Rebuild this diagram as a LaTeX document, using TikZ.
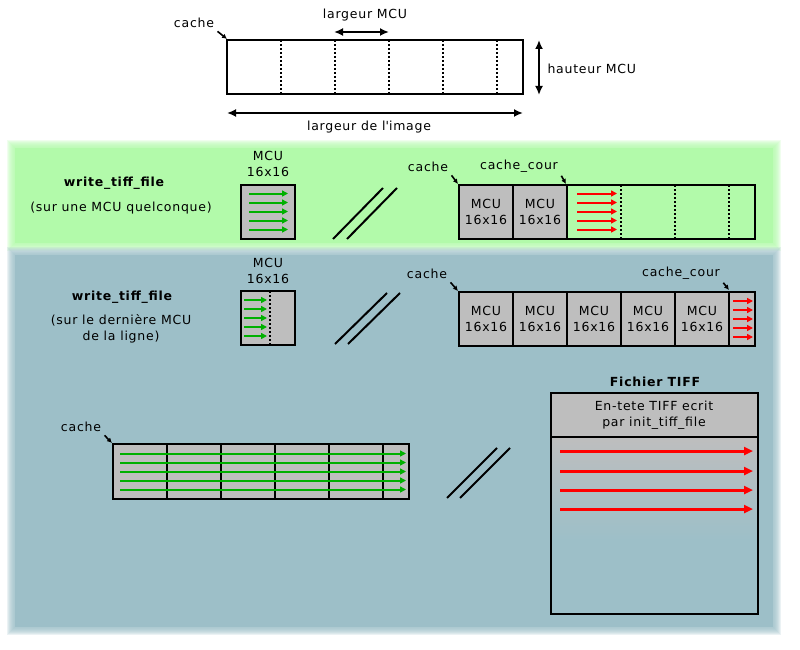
\documentclass[tikz,border=0pt]{standalone}
\usepackage{fontspec}
\setmainfont{DejaVu Sans}[LetterSpace=6]
\usetikzlibrary{arrows.meta}
\definecolor{cellgray}{RGB}{190,190,190}
\definecolor{greenband}{RGB}{178,250,170}
\definecolor{blueband}{RGB}{157,191,200}
\definecolor{rowgreen}{RGB}{0,176,0}
\definecolor{rowred}{RGB}{255,0,0}
\tikzset{
  box/.style={draw=black,line width=1.8pt},
  sepline/.style={line width=1.8pt},
  dotsep/.style={line width=1.8pt,dash pattern=on 2pt off 2pt},
  dim/.style={line width=2pt,{Latex[length=9pt,width=8pt]}-{Latex[length=9pt,width=8pt]}},
  pointer/.style={line width=1.6pt,-{Latex[length=5pt,width=5pt]}},
  greenrow/.style={rowgreen,line width=2pt,-{Triangle[length=6pt,width=6pt]}},
  redrow/.style={rowred,line width=2pt,-{Triangle[length=6pt,width=6pt]}},
  tiffrow/.style={rowred,line width=3pt,-{Triangle[length=9pt,width=8pt]}},
  slash/.style={line width=2pt},
  title/.style={font=\fontsize{12.5}{15.5}\selectfont\bfseries},
  cell/.style={align=center,inner sep=1pt}
}
\begin{document}
\begin{tikzpicture}[x=1pt,y=-1pt,font=\fontsize{12.5}{15.5}\selectfont]
  \useasboundingbox (0,0) rectangle (800,650);
  % bands
  \foreach \g in {8,7,...,1}
    \fill[greenband,opacity=0.2] (15-\g,148-\g) rectangle (773+\g,243+\g);
  \fill[greenband] (15,148) rectangle (773,243);
  \foreach \g in {8,7,...,1}
    \fill[blueband,opacity=0.2] (15-\g,255-\g) rectangle (773+\g,627+\g);
  \fill[blueband] (15,255) rectangle (773,627);

  % cache layout
  \draw[box] (227,40) rectangle (523,94);
  \foreach \x in {281,335,389,443,497}
    \draw[dotsep] (\x,40) -- (\x,94);
  \node (cacheTop) at (194,23) {cache};
  \coordinate (cornerTop) at (227,39);
  \draw[pointer] (cacheTop.south east) -- (cornerTop);
  \node (mcuWidth) at (365,15) {largeur MCU};
  \coordinate (mcuWa) at (334,32);
  \coordinate (mcuWb) at (389,32);
  \draw[dim] (mcuWa) -- (mcuWb);
  \coordinate (mcuHa) at (539,40);
  \coordinate (mcuHb) at (539,95);
  \draw[dim] (mcuHa) -- (mcuHb);
  \node[anchor=west] (mcuHeight) at (544,69) {hauteur MCU};
  \coordinate (imgWa) at (227,113);
  \coordinate (imgWb) at (523,113);
  \draw[dim] (imgWa) -- (imgWb);
  \node (imgWidth) at (369,127) {largeur de l\textquotesingle image};

  % write_tiff_file, any MCU
  \node[title] (wtfAny) at (114,183) {write\_tiff\_file};
  \node (subAny) at (121,208) {(sur une MCU quelconque)};
  \node[cell] (mcuAny) at (268,164) {MCU\\16x16};
  \draw[box,fill=cellgray] (241,185) rectangle (295,239);
  \foreach \y in {193.5,202.5,211.5,220.5,229.5}
    \draw[greenrow] (249,\y) -- (288,\y);
  \draw[slash] (333,239) -- (383,188) (347,239) -- (397,188);
  \node (cacheAny) at (428,167) {cache};
  \coordinate (cornerAny) at (458,184);
  \draw[pointer] (cacheAny.south east) -- (cornerAny);
  \node (courAny) at (519,166) {cache\_cour};
  \coordinate (courAnyPt) at (566,184);
  \draw[pointer] (courAny.south east) -- (courAnyPt);
  \fill[cellgray] (459,185) rectangle (567,239);
  \draw[box] (459,185) rectangle (755,239);
  \draw[sepline] (513,185) -- (513,239) (567,185) -- (567,239);
  \foreach \x in {621,675,729}
    \draw[dotsep] (\x,185) -- (\x,239);
  \node[cell] (mcuAny1) at (486,212) {MCU\\16x16};
  \node[cell] (mcuAny2) at (540,212) {MCU\\16x16};
  \foreach \y in {193.5,202.5,211.5,220.5,229.5}
    \draw[redrow] (577,\y) -- (617,\y);

  % write_tiff_file, last MCU of the line
  \node[title] (wtfLast) at (122,297) {write\_tiff\_file};
  \node[align=center] (subLast) at (121,329) {(sur le dernière MCU\\de la ligne)};
  \node[cell] (mcuLast) at (268,271) {MCU\\16x16};
  \draw[box,fill=cellgray] (241,291) rectangle (295,345);
  \draw[dotsep] (270,291) -- (270,345);
  \foreach \y in {300,309,318,327,336}
    \draw[greenrow] (244,\y) -- (267,\y);
  \draw[slash] (335,344) -- (387,293) (348,344) -- (400,293);
  \node (cacheLast) at (427,274) {cache};
  \coordinate (cornerLast) at (458,291);
  \draw[pointer] (cacheLast.south east) -- (cornerLast);
  \node (courLast) at (681,273) {cache\_cour};
  \coordinate (courLastPt) at (729,290);
  \draw[pointer] (courLast.south east) -- (courLastPt);
  \draw[box,fill=cellgray] (459,292) rectangle (755,346);
  \foreach \x in {513,567,621,675,729}
    \draw[sepline] (\x,292) -- (\x,346);
  \foreach \x [count=\i] in {486,540,594,648,702}
    \node[cell] (mcuFull\i) at (\x,319) {MCU\\16x16};
  \foreach \y in {301,310,319,328,337}
    \draw[redrow] (733,\y) -- (753,\y);

  % full line in the cache
  \node (cacheLine) at (81,427) {cache};
  \coordinate (cornerLine) at (112,443);
  \draw[pointer] (cacheLine.south east) -- (cornerLine);
  \draw[box,fill=cellgray] (113,444) rectangle (409,499);
  \foreach \x in {167,221,275,329,383}
    \draw[sepline] (\x,444) -- (\x,499);
  \foreach \y in {453.5,462.5,471.5,480.5,489.5}
    \draw[greenrow] (120,\y) -- (406,\y);
  \draw[slash] (447,498) -- (497,448) (460,498) -- (510,448);

  % TIFF file
  \node[title] (tiffTitle) at (655,382) {Fichier TIFF};
  \fill[cellgray] (551,393) rectangle (758,437);
  \shade[top color=cellgray,bottom color=blueband] (551,437) rectangle (758,540);
  \draw[box] (551,393) rectangle (758,614);
  \draw[sepline] (551,437) -- (758,437);
  \node[align=center] (tiffHead) at (654,415) {En-tete TIFF ecrit\\par init\_tiff\_file};
  \foreach \y in {451,471,490,509}
    \draw[tiffrow] (560,\y) -- (753,\y);
\end{tikzpicture}
\end{document}
